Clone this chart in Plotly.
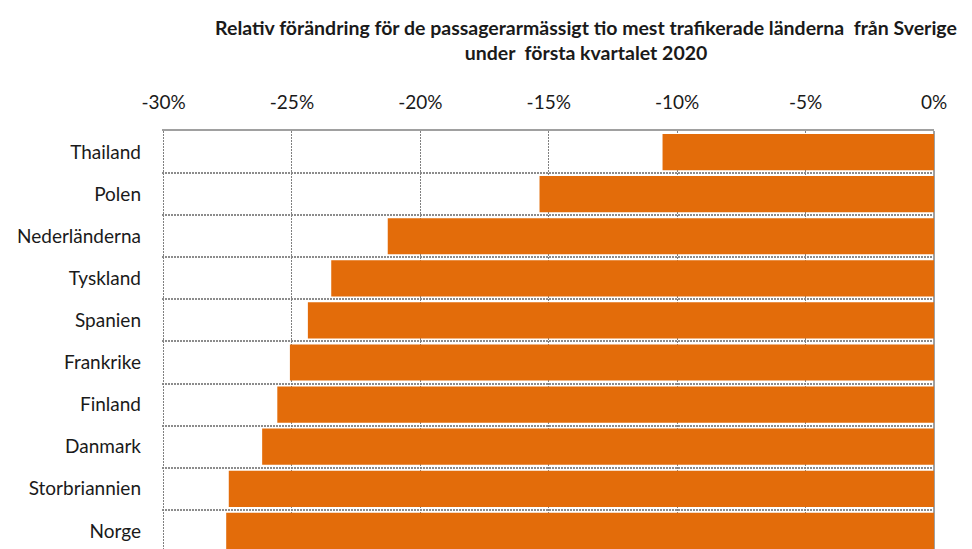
import plotly.graph_objects as go

countries = ["Thailand", "Polen", "Nederländerna", "Tyskland", "Spanien",
             "Frankrike", "Finland", "Danmark", "Storbriannien", "Norge"]
change_pct = [-10.57, -15.36, -21.27, -23.47, -24.38,
              -25.08, -25.57, -26.16, -27.46, -27.56]
x_ticks = [-30, -25, -20, -15, -10, -5, 0]
x_ticktext = ["-30%", "-25%", "-20%", "-15%", "-10%", "-5%", "0%"]

title_text = ("<b>Relativ förändring för de passagerarmässigt tio mest trafikerade länderna  från Sverige"
              "<br>under  första kvartalet 2020</b>")

pos = list(range(len(countries)))

fig = go.Figure(go.Bar(
    x=change_pct, y=pos, orientation="h",
    width=0.86,
    marker=dict(color="#e36c0a", line=dict(width=0)),
))

# page body adds ~8px offset, so margins are trimmed by that
fig.update_layout(
    width=972, height=549,
    margin=dict(l=154, r=46, t=123, b=0),
    plot_bgcolor="white", paper_bgcolor="white",
    font=dict(family="Lato", size=19, color="#1a1a1a"),
    showlegend=False,
    title=dict(text=title_text, x=578 / 972, xanchor="center",
               y=1 - 27 / 549, yanchor="top",
               font=dict(family="Lato", size=19.5, color="#1a1a1a")),
)

fig.update_xaxes(
    side="top", range=[-30.06, 0], tickvals=x_ticks, ticktext=x_ticktext,
    showgrid=True, gridcolor="#808080", gridwidth=1, griddash="2px,1px",
    showline=True, linecolor="#a0a0a0", linewidth=2,
    zeroline=True, zerolinecolor="#a0a0a0", zerolinewidth=1.5,
    ticks="", ticklabelstandoff=12,
)

fig.update_yaxes(
    range=[9.62, -0.5], tickvals=pos, ticktext=countries,
    showgrid=False, zeroline=False, ticks="", ticklabelstandoff=20,
    minor=dict(tickvals=[p + 0.5 for p in pos[:-1]], showgrid=True,
               gridcolor="#8c8c8c", gridwidth=2, griddash="2px,1px"),
)

fig.write_html("out.html")
